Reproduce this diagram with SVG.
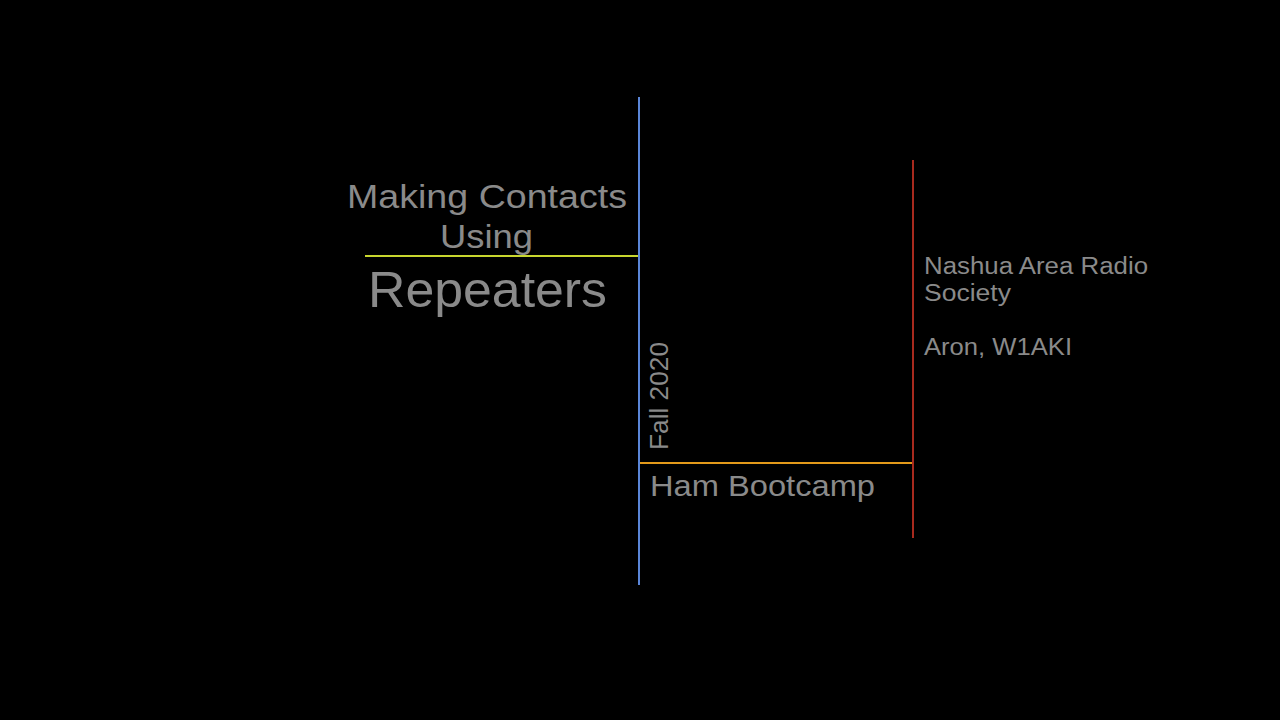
<svg xmlns="http://www.w3.org/2000/svg" width="1280" height="720" viewBox="0 0 1280 720">
<style>text{font-family:"Liberation Sans",Arial,sans-serif;fill:#8a8a8a}</style>
<rect width="1280" height="720" fill="#000"/>
<g id="lines">
<line x1="639" y1="97" x2="639" y2="585" stroke="#5b86d8" stroke-width="2"/>
<line x1="913" y1="160" x2="913" y2="538" stroke="#a82a1e" stroke-width="2"/>
<line x1="365" y1="256" x2="638" y2="256" stroke="#c8d62e" stroke-width="2"/>
<line x1="640" y1="463" x2="912" y2="463" stroke="#e39a1a" stroke-width="2"/>
</g>
<g id="title">
<text x="347" y="208" font-size="34" textLength="280" lengthAdjust="spacingAndGlyphs">Making Contacts</text>
<text x="440" y="248" font-size="34" textLength="93" lengthAdjust="spacingAndGlyphs">Using</text>
<text x="368" y="307" font-size="50" textLength="239" lengthAdjust="spacingAndGlyphs">Repeaters</text>
</g>
<g id="date"><text transform="translate(668,450) rotate(-90)" font-size="26" textLength="108" lengthAdjust="spacingAndGlyphs">Fall 2020</text></g>
<g id="bootcamp"><text x="650" y="496" font-size="30" textLength="225" lengthAdjust="spacingAndGlyphs">Ham Bootcamp</text></g>
<g id="org">
<text x="924" y="274" font-size="23" textLength="224" lengthAdjust="spacingAndGlyphs">Nashua Area Radio</text>
<text x="924" y="301" font-size="23" textLength="87" lengthAdjust="spacingAndGlyphs">Society</text>
<text x="924" y="355" font-size="23" textLength="148" lengthAdjust="spacingAndGlyphs">Aron, W1AKI</text>
</g>
</svg>
